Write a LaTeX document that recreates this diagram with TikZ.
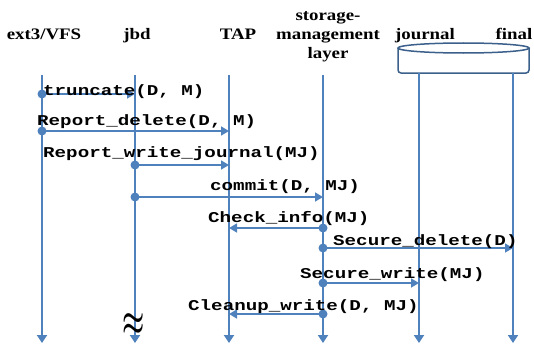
\documentclass[tikz,border=0pt]{standalone}
\usepackage{fontspec}
\setmainfont{Liberation Serif}
\newfontfamily\headfont[FakeStretch=1.18]{Liberation Serif}
\newfontfamily\msgfont[FakeStretch=1.28]{Liberation Mono}
\usepackage{tikz}
\usetikzlibrary{arrows.meta,positioning,calc}
\usepackage{xcolor}
\definecolor{lineblue}{RGB}{79,129,189}
\definecolor{storeblue}{RGB}{60,96,140}

\tikzset{
  lifeline/.style={lineblue,line width=1.8pt,-{Triangle[length=8pt,width=10pt]}},
  msg/.style={lineblue,line width=1.6pt,-{Triangle[length=8pt,width=9pt]}},
  msgdot/.style={circle,fill=lineblue,inner sep=0pt,minimum size=9pt},
  head/.style={font=\headfont\bfseries\fontsize{16}{18.5}\selectfont,align=center,anchor=base,inner sep=0pt},
  msglabel/.style={font=\msgfont\bfseries\fontsize{15}{15}\selectfont,anchor=base west,inner sep=0pt},
}

\begin{document}
\begin{tikzpicture}[x=1pt,y=-1pt]
\useasboundingbox (0,0) rectangle (534,345);

% headers
\node[head] (vfs-h) at (44,40) {ext3/VFS};
\node[head] (jbd-h) at (137,40) {jbd};
\node[head] (tap-h) at (238,40) {TAP};
\node[head] (sml-h) at (328,58) {storage-\\management\\layer};
\node[head] (jnl-h) at (425,40) {journal};
\node[head] (fin-h) at (514,40) {final};

% storage cylinder
\draw[storeblue,line width=1.5pt,fill=white,rounded corners=3pt] (398,48) -- (398,73) -- (529,73) -- (529,48);
\draw[storeblue,line width=1.5pt,fill=white] (463.5,48) ellipse (65.5pt and 5pt);

% lifelines
\foreach \name/\x in {vfs/42,jbd/135,tap/229,sml/323}{
  \coordinate (\name-top) at (\x,75);
  \coordinate (\name-bot) at (\x,343);
  \draw[lifeline] (\name-top) -- (\name-bot);
}
\foreach \name/\x in {jnl/419,fin/513}{
  \coordinate (\name-top) at (\x,73);
  \coordinate (\name-bot) at (\x,343);
  \draw[lifeline] (\name-top) -- (\name-bot);
}

% messages
\foreach \i/\from/\to/\y in {1/vfs/jbd/94,2/vfs/tap/131,3/jbd/tap/165,4/jbd/sml/197,
                             5/sml/tap/228,6/sml/fin/248,7/sml/jnl/283,8/sml/tap/314}{
  \node[msgdot] (d\i) at (\from-top |- 0,\y) {};
  \coordinate (e\i) at (\to-top |- 0,\y);
  \draw[msg] (d\i.center) -- (e\i);
}

\node[msglabel] (t1) at (43,95) {truncate(D, M)};
\node[msglabel] (t2) at (37,125) {Report\_delete(D, M)};
\node[msglabel] (t3) at (43,157) {Report\_write\_journal(MJ)};
\node[msglabel] (t4) at (210,190) {commit(D, MJ)};
\node[msglabel] (t5) at (208,222) {Check\_info(MJ)};
\node[msglabel] (t6) at (333,245) {Secure\_delete(D)};
\node[msglabel] (t7) at (300,278) {Secure\_write(MJ)};
\node[msglabel] (t8) at (188,310) {Cleanup\_write(D, MJ)};

% gap mark
\node (gap) at (134,325) {\scalebox{1}[1.6]{\fontsize{30}{30}\selectfont\boldmath$\approx$}};
\end{tikzpicture}
\end{document}
